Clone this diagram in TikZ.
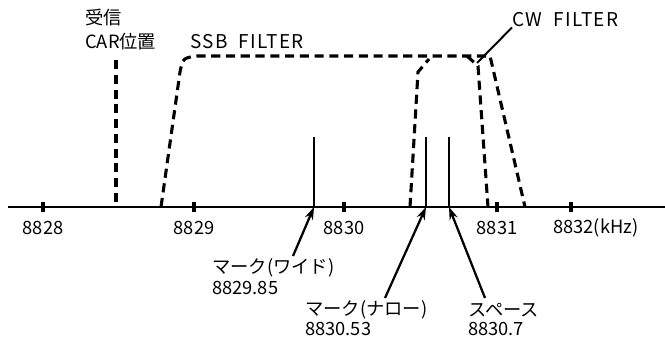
\documentclass[tikz,border=0pt]{standalone}
\usepackage{fontspec}
\setmainfont{Noto Sans CJK JP}
\usepackage{tikz}
\usetikzlibrary{arrows.meta, positioning}
\tikzset{>=Stealth}
\tikzset{
  filt/.style={line width=2.2pt, dash pattern=on 6.5pt off 4pt},
  sigline/.style={line width=1.4pt},
  lbl/.style={anchor=west, inner sep=0pt},
  wide lbl/.style={lbl, font=\fontsize{13.5}{15}\selectfont\addfontfeature{LetterSpace=7}},
  ptr/.style={line width=1.6pt, -{Stealth[length=9pt,width=6pt]}},
}

\begin{document}
\begin{tikzpicture}[x=0.025cm, y=-0.025cm, font=\fontsize{13}{15}\selectfont]
	\useasboundingbox (0,0) rectangle (665,339);
	% frequency axis
	\draw [line width=1.4pt] (8,207) -- (665,207);
	\foreach \x/\f in {43/8828, 194/8829, 344/8830, 497/8831}{
		\draw [line width=2.2pt] (\x,202) -- (\x,212);
		\node [inner sep=0pt] (lab\f) at (\x,228) {\f};
	}
	\draw [line width=2.2pt] (571,202) -- (571,212);
	\node [lbl] (lab8832) at (553,228) {8832(kHz)};
	% carrier and filters
	\draw [filt] (116,60) -- (116,207);
	\node [lbl] (rx) at (85,18) {受信};
	\node [lbl] (car) at (85,42) {CAR位置};
	\draw [filt] (161,207) -- (180,72) .. controls (183,58) .. (197,56) -- (490,56) -- (525,207);
	\node [wide lbl] (ssb) at (190,42) {SSB\ \ FILTER};
	\draw [filt] (410,207) -- (418,72) -- (429,59);
	\draw [filt] (467,56) -- (478,66) -- (488,207);
	\node [wide lbl] (cw) at (512,20) {CW\ \ FILTER};
	\coordinate (cwtip) at (477,63);
	\draw [line width=1.4pt] (cw.south west) -- (cwtip);
	% mark and space
	\draw [sigline] (314,137) -- (314,207) coordinate (wide);
	\draw [sigline] (426,137) -- (426,207) coordinate (narrow);
	\draw [sigline] (449,137) -- (449,207) coordinate (space);
	\node [lbl] (widelab) at (212,268) {マーク(ワイド)};
	\node [lbl] (widefq) at (212,288) {8829.85};
	\node [lbl] (narrowlab) at (305,310) {マーク(ナロー)};
	\node [lbl] (narrowfq) at (305,329) {8830.53};
	\node [lbl] (spacelab) at (468,310) {スペース};
	\node [lbl] (spacefq) at (468,329) {8830.7};
	\coordinate (widetail) at (293,256);
	\coordinate (narrowtail) at (385,298);
	\coordinate (spacetail) at (485,298);
	\draw [ptr] (widetail) -- (wide);
	\draw [ptr] (narrowtail) -- (narrow);
	\draw [ptr] (spacetail) -- (space);
\end{tikzpicture}
\end{document}
